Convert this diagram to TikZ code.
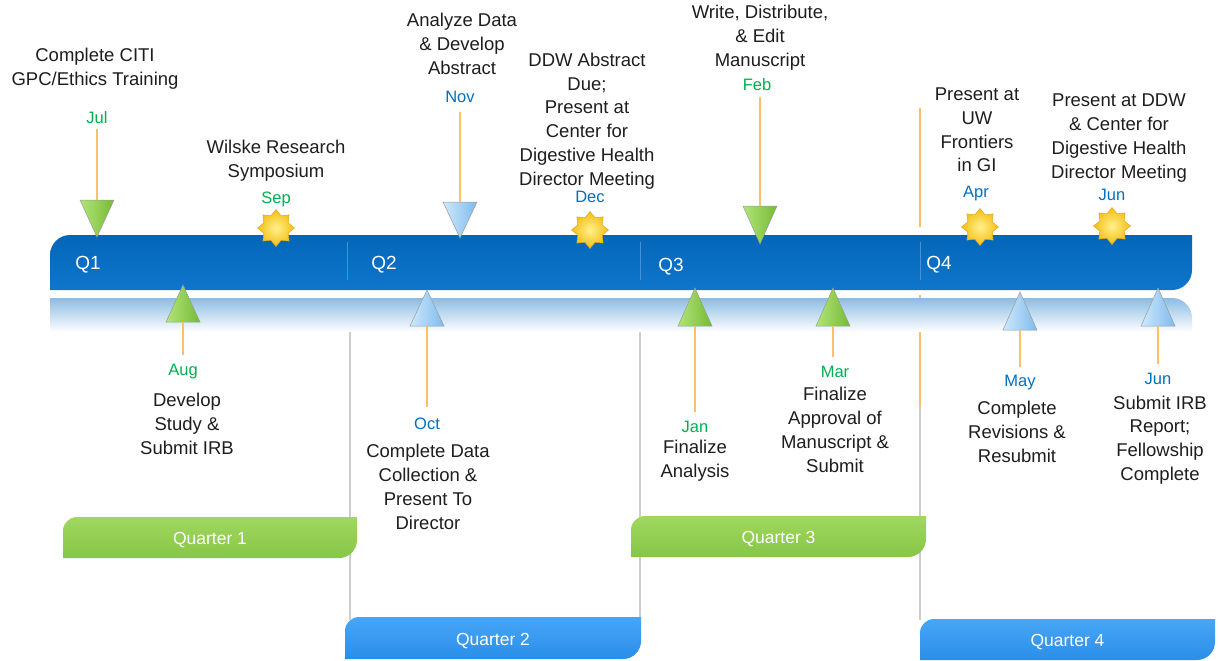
\documentclass[tikz,border=0pt]{standalone}
\usepackage{fontspec}
\setmainfont{Liberation Sans}
\usetikzlibrary{shapes.geometric}
\definecolor{txt}{RGB}{30,30,30}
\definecolor{mgreen}{RGB}{0,176,80}
\definecolor{mblue}{RGB}{0,112,192}
\definecolor{barTop}{RGB}{4,102,184}
\definecolor{barBot}{RGB}{14,118,204}
\definecolor{barDiv}{RGB}{70,145,215}
\definecolor{reflTop}{RGB}{140,188,228}
\definecolor{orangeline}{RGB}{250,192,105}
\definecolor{grayline}{RGB}{205,205,205}
\definecolor{gTop}{RGB}{160,215,96}
\definecolor{gBot}{RGB}{134,198,70}
\definecolor{bTop}{RGB}{72,166,246}
\definecolor{bBot}{RGB}{42,142,232}
\definecolor{triGL}{RGB}{178,228,122}
\definecolor{triGR}{RGB}{118,186,52}
\definecolor{triBL}{RGB}{205,232,252}
\definecolor{triBR}{RGB}{128,186,238}
\definecolor{triEdge}{RGB}{150,160,150}
\definecolor{starIn}{RGB}{255,240,140}
\definecolor{starOut}{RGB}{245,190,20}
\definecolor{starEdge}{RGB}{225,170,30}
\newcommand{\TriDown}[5]{%
  \coordinate (#1) at (#2,#3);
  \path[#5] (#2-17,#3) -- (#2+17,#3) -- (#2,#4) -- cycle;}
\newcommand{\TriUp}[5]{%
  \coordinate (#1) at (#2,#3);
  \path[#5] (#2-17,#3) -- (#2+17,#3) -- (#2,#4) -- cycle;}
\newcommand{\QBox}[7]{%
  \path[#6] (#2,#5) -- (#2,#3+14) arc[start angle=180,end angle=270,radius=14]
    -- (#4,#3) -- (#4,#5-18) arc[start angle=0,end angle=90,radius=18] -- cycle;
  \node[qtxt] (#1) at ({(#2+#4)/2},{(#3+#5)/2+3}) {#7};}
\tikzset{
  lbl/.style={align=center, text=txt, font=\fontsize{18.5}{23.8}\selectfont, inner sep=0pt},
  mon/.style={font=\fontsize{16.5}{19}\selectfont, inner sep=1pt},
  gmon/.style={mon, text=mgreen},
  bmon/.style={mon, text=mblue},
  conn/.style={draw=orangeline, line width=1.4pt},
  gline/.style={draw=grayline, line width=1.2pt},
  qtxt/.style={text=white, font=\fontsize{17.5}{19}\selectfont, inner sep=0pt},
  bartxt/.style={text=white, font=\fontsize{19}{20}\selectfont, inner sep=0pt},
  greentri/.style={left color=triGL, right color=triGR, draw=triEdge, line width=0.5pt},
  bluetri/.style={left color=triBL, right color=triBR, draw=triEdge, line width=0.5pt},
  greenbox/.style={top color=gTop, bottom color=gBot},
  bluebox/.style={top color=bTop, bottom color=bBot},
  startri/.style={star, star points=8, star point ratio=1.4, minimum size=37pt,
    inner sep=0pt, inner color=starIn, outer color=starOut, draw=starEdge, line width=0.5pt},
}
\begin{document}
\begin{tikzpicture}[x=1pt,y=-1pt]
\path[use as bounding box, fill=white] (0,0) rectangle (1218,661);

% vertical guide lines
\draw[gline] (350,300) -- (350,620);
\draw[gline] (640,300) -- (640,645);
\draw[gline] (920,406) -- (920,620);
\draw[draw=orangeline, line width=1.4pt] (920,108) -- (920,227);
\draw[draw=orangeline, line width=1.4pt] (920,295) -- (920,406);

% reflection bar
\path[top color=reflTop, bottom color=white] (50,332) -- (50,298) -- (1172,298)
  arc[start angle=270,end angle=360,radius=20] -- (1192,332) -- cycle;

% main bar
\path[top color=barTop, bottom color=barBot] (50,290) -- (50,255)
  arc[start angle=180,end angle=270,radius=20] -- (1192,235) -- (1192,270)
  arc[start angle=0,end angle=90,radius=20] -- cycle;
\draw[draw=barDiv, line width=0.8pt] (347,242) -- (347,280);
\draw[draw=barDiv, line width=0.8pt] (640,242) -- (640,280);
\draw[draw=barDiv, line width=0.8pt] (920,242) -- (920,280);
\node[bartxt] (q1) at (88,265) {Q1};
\node[bartxt] (q2) at (384,265) {Q2};
\node[bartxt] (q3) at (671,267) {Q3};
\node[bartxt] (q4) at (939,265) {Q4};

% quarter boxes
\QBox{qb1}{63}{517}{357}{558}{greenbox}{Quarter 1}
\QBox{qb2}{345}{617}{641}{659}{bluebox}{Quarter 2}
\QBox{qb3}{631}{516}{926}{557}{greenbox}{Quarter 3}
\QBox{qb4}{920}{619}{1215}{660}{bluebox}{Quarter 4}

% stars
\node[startri] (sSep) at (276,228) {};
\node[startri] (sDec) at (590,230) {};
\node[startri] (sApr) at (980,227) {};
\node[startri] (sJun) at (1112,226) {};

% triangles
\TriDown{tJul}{97}{200}{237}{greentri}
\TriDown{tNov}{460}{202}{238}{bluetri}
\TriDown{tFeb}{760}{206}{244}{greentri}
\TriUp{tAug}{183}{322}{285}{greentri}
\TriUp{tOct}{427}{326}{290}{bluetri}
\TriUp{tJan}{695}{326}{288}{greentri}
\TriUp{tMar}{833}{326}{288}{greentri}
\TriUp{tMay}{1020}{330}{292}{bluetri}
\TriUp{tJunB}{1158}{326}{288}{bluetri}

% top labels
\node[lbl] (lCiti) at (95,69) {Complete CITI\\GPC/Ethics Training};
\node[gmon] (mJul) at (97,118) {Jul};
\node[lbl] (lWil) at (276,161) {Wilske Research\\Symposium};
\node[gmon] (mSep) at (276,199) {Sep};
\node[lbl] (lAna) at (462,44) {Analyze Data\\\& Develop\\Abstract};
\node[bmon] (mNov) at (460,97) {Nov};
\node[lbl] (lDDW) at (587,121) {DDW Abstract\\Due;\\Present at\\Center for\\Digestive Health\\Director Meeting};
\node[bmon] (mDec) at (590,197) {Dec};
\node[lbl] (lWri) at (760,38) {Write, Distribute,\\\& Edit\\Manuscript};
\node[gmon] (mFeb) at (757,85) {Feb};
\node[lbl] (lUW) at (977,130) {Present at\\UW\\Frontiers\\in GI};
\node[bmon] (mApr) at (976,194) {Apr};
\node[lbl] (lPDDW) at (1119,138) {Present at DDW\\\& Center for\\Digestive Health\\Director Meeting};
\node[bmon] (mJunT) at (1112,195) {Jun};

% bottom labels
\node[gmon] (mAug) at (183,372) {Aug};
\node[lbl] (lDev) at (187,424) {Develop\\Study \&\\Submit IRB};
\node[bmon] (mOct) at (427,424) {Oct};
\node[lbl] (lCol) at (428,487) {Complete Data\\Collection \&\\Present To\\Director};
\node[gmon] (mJan) at (695,427) {Jan};
\node[lbl] (lFin) at (695,461) {Finalize\\Analysis};
\node[gmon] (mMar) at (835,372) {Mar};
\node[lbl] (lApp) at (835,430) {Finalize\\Approval of\\Manuscript \&\\Submit};
\node[bmon] (mMay) at (1020,383) {May};
\node[lbl] (lRev) at (1017,432) {Complete\\Revisions \&\\Resubmit};
\node[bmon] (mJunB) at (1158,379) {Jun};
\node[lbl] (lIRB) at (1160,440) {Submit IRB\\Report;\\Fellowship\\Complete};

% connectors
\draw[conn, shorten <=4pt] (tJul |- mJul.south) -- (tJul);
\draw[conn, shorten <=8pt] (tNov |- mNov.south) -- (tNov);
\draw[conn, shorten <=5pt] (tFeb |- mFeb.south) -- (tFeb);
\draw[conn, shorten >=8pt] (tAug) -- (tAug |- mAug.north);
\draw[conn, shorten >=10pt] (tOct) -- (tOct |- mOct.north);
\draw[conn, shorten >=8pt] (tJan) -- (tJan |- mJan.north);
\draw[conn, shorten >=8pt] (tMar) -- (tMar |- mMar.north);
\draw[conn, shorten >=7pt] (tMay) -- (tMay |- mMay.north);
\draw[conn, shorten >=8pt] (tJunB) -- (tJunB |- mJunB.north);
\end{tikzpicture}
\end{document}
